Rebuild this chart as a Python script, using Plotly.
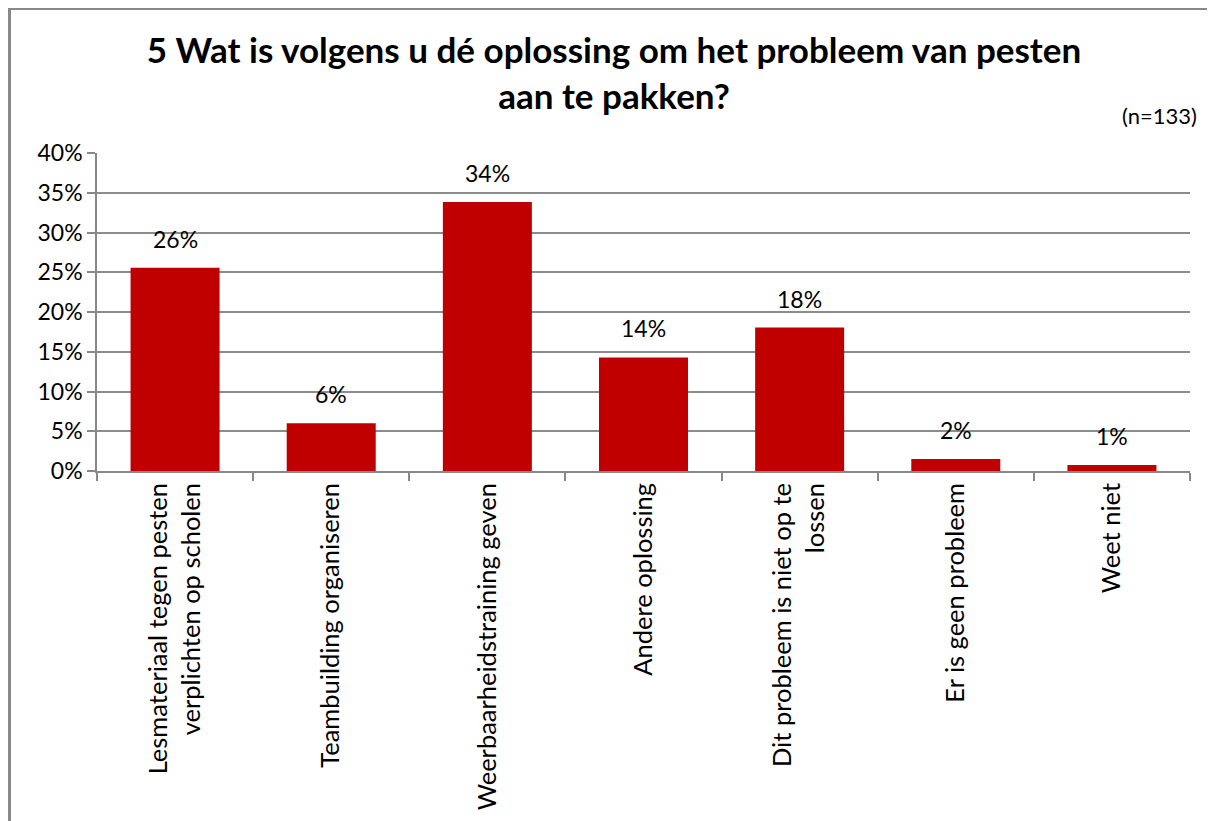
import plotly.graph_objects as go

categories = [
    "Lesmateriaal tegen pesten<br>verplichten op scholen",
    "Teambuilding organiseren",
    "Weerbaarheidstraining geven",
    "Andere oplossing",
    "Dit probleem is niet op te<br>lossen",
    "Er is geen probleem",
    "Weet niet",
]
counts = [34, 8, 45, 19, 24, 2, 1]
n_total = 133
values = [c / n_total for c in counts]
y_ticks = [0, 0.05, 0.10, 0.15, 0.20, 0.25, 0.30, 0.35, 0.40]
y_ticklabels = ["0%", "5%", "10%", "15%", "20%", "25%", "30%", "35%", "40%"]

FONT = "Lato"
BAR = "#C00000"
W, H = 1215, 821
L, T = 89, 145
PW, PH = 1093, 318
R = W - L - PW
B = H - T - PH


def px(fx):
    return (fx - L) / PW


def py(fy):
    return (T + PH - fy) / PH


fig = go.Figure()
fig.add_trace(go.Bar(x=categories, y=values, marker_color=BAR, marker_line_width=0,
                     hoverinfo="skip"))

for c, v in zip(categories, values):
    fig.add_annotation(x=c, y=v, xref="x", yref="y", text=f"{round(v*100)}%",
                       showarrow=False, yanchor="bottom", yshift=13,
                       font=dict(family=FONT, size=23, color="#000"))

fig.add_annotation(x=px(1191), y=py(108), xref="paper", yref="paper", text="(n=133)",
                   showarrow=False, xanchor="right", yanchor="middle",
                   font=dict(family=FONT, size=22, color="#000"))

fig.update_layout(
    width=W, height=H,
    margin=dict(l=L, r=R, t=T, b=B, autoexpand=False),
    paper_bgcolor="white", plot_bgcolor="white",
    font=dict(family=FONT, size=23, color="#000"),
    title=dict(text="<b>5 Wat is volgens u dé oplossing om het probleem van pesten<br>aan te pakken?</b>",
               x=606 / W, xanchor="center", y=1 - 55 / H, yanchor="middle",
               font=dict(family=FONT, size=35, color="#000")),
    bargap=0.43,
    showlegend=False,
    xaxis=dict(tickangle=-90, showline=True, linecolor="#888", linewidth=1.5,
               ticks="outside", tickson="boundaries", ticklen=8, tickcolor="#888",
               tickwidth=1.5, showgrid=False, tickfont=dict(size=25.5)),
    yaxis=dict(range=[0, 0.4], tickvals=y_ticks, ticktext=y_ticklabels,
               showgrid=True, gridcolor="#8c8c8c", gridwidth=1.5,
               showline=True, linecolor="#888", linewidth=1.5,
               ticks="outside", ticklen=8, tickcolor="#888", tickwidth=1.5,
               tickfont=dict(size=23), zeroline=False),
)

# chart-area border (left and top edges visible in the reference)
fig.add_shape(type="line", xref="paper", yref="paper",
              x0=px(1.5), x1=px(1.5), y0=py(H + 20), y1=py(0.5),
              line=dict(color="#888", width=3))
fig.add_shape(type="line", xref="paper", yref="paper",
              x0=px(0), x1=px(W + 20), y0=py(0.5), y1=py(0.5),
              line=dict(color="#888", width=3))

fig.write_html("out.html", config={"displayModeBar": False})
